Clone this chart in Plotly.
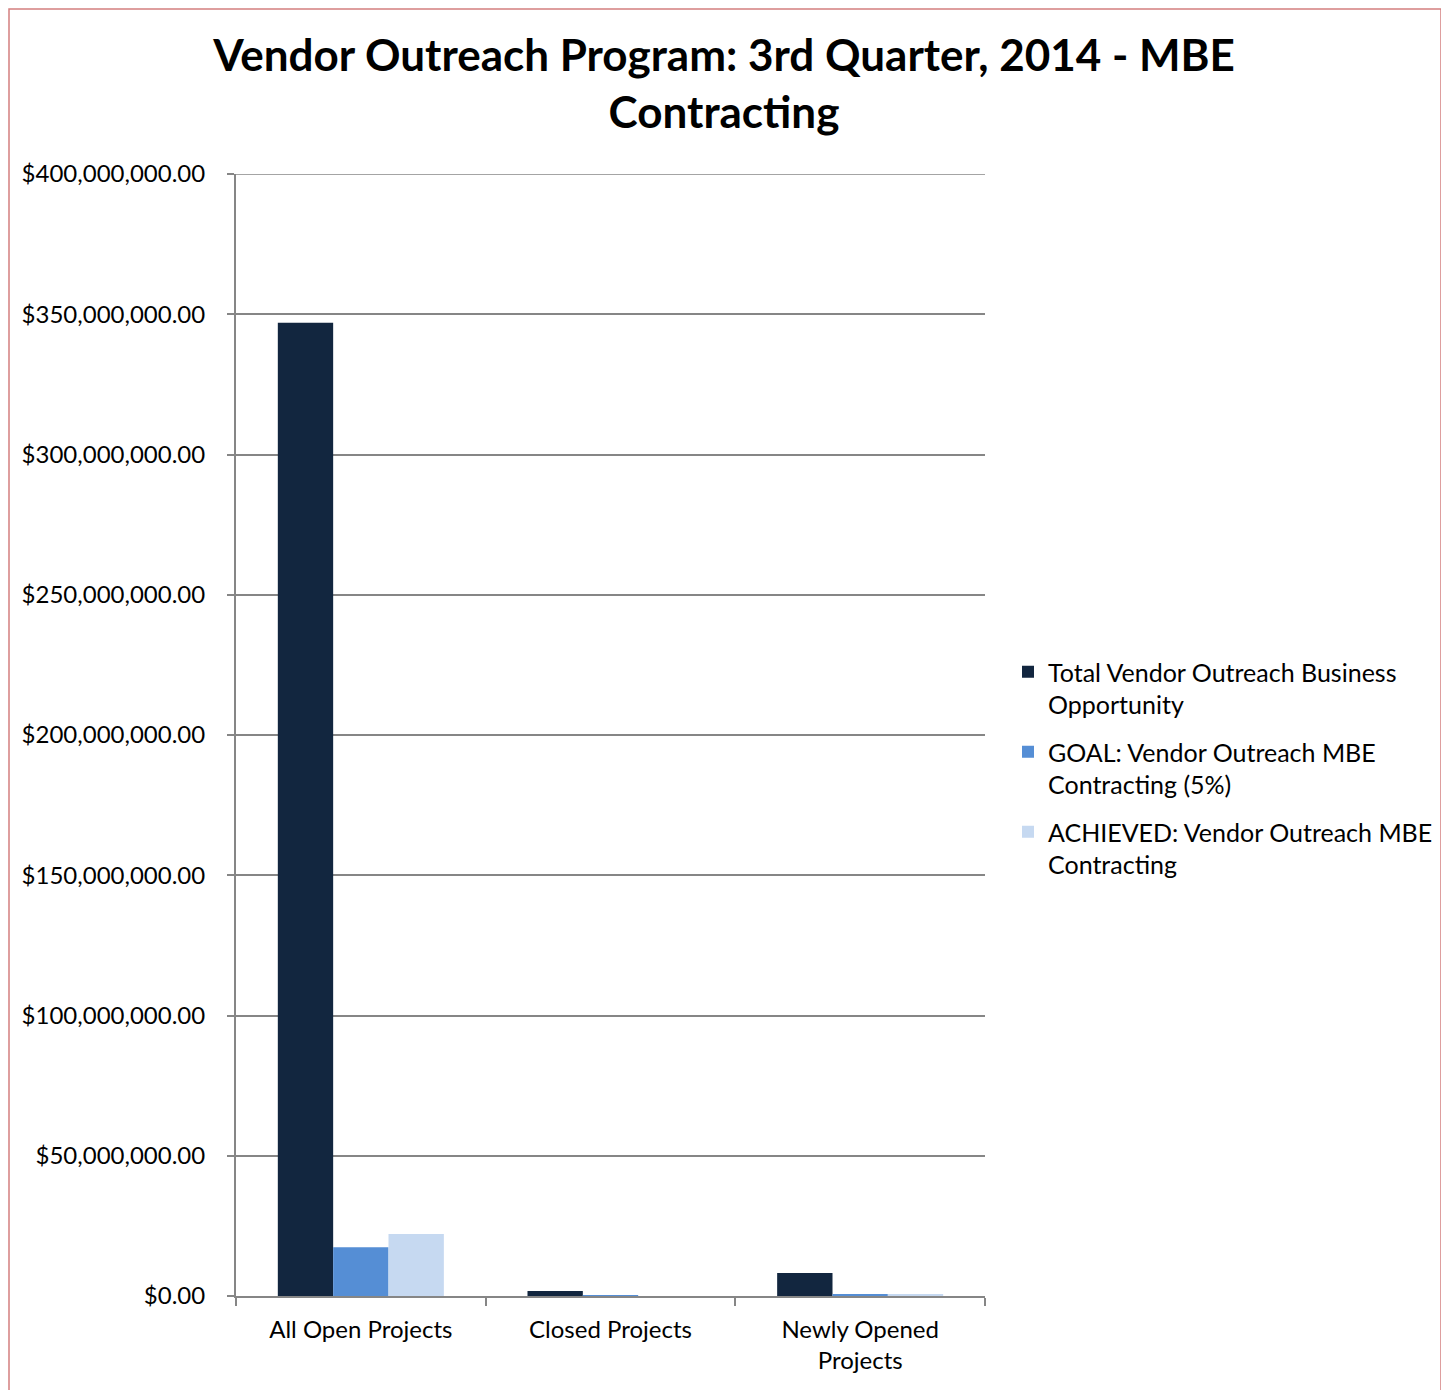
import plotly.graph_objects as go

categories = ["All Open Projects", "Closed Projects", "Newly Opened<br>Projects"]
total = [347_000_000, 1_800_000, 8_200_000]
goal = [17_350_000, 90_000, 410_000]
achieved = [22_100_000, 0, 500_000]
names = ["Total Vendor Outreach Business<br>Opportunity",
         "GOAL: Vendor Outreach MBE<br>Contracting (5%)",
         "ACHIEVED: Vendor Outreach MBE<br>Contracting"]
colors = ["#12263f", "#558ed5", "#c6d9f1"]
tickvals = [0, 50e6, 100e6, 150e6, 200e6, 250e6, 300e6, 350e6, 400e6]
ticktext = ["$%s" % format(v, ",.2f") for v in tickvals]

OFF = 8  # page body offset
W, H = 1449, 1390
L, R, T, B = 236 - OFF, 464 + OFF, 174 - OFF, 94 + OFF
pw, ph = W - L - R, H - T - B

fig = go.Figure()
for i, (n, vals, c) in enumerate(zip(names, [total, goal, achieved], colors)):
    fig.add_trace(go.Bar(x=categories, y=vals, name=n, marker_color=c,
                         marker_line_width=0, legendgroup="g%d" % i))

font = "Lato, Open Sans, sans-serif"
def px_x(p):  # screen px -> paper
    return (p - OFF - L) / pw
def px_y(p):
    return (H - B - (p - OFF)) / ph

fig.update_layout(
    width=W, height=H,
    margin=dict(l=L, r=R, t=T, b=B),
    paper_bgcolor="white", plot_bgcolor="white",
    barmode="group", bargap=0.335, bargroupgap=0,
    font=dict(family=font, size=24, color="black"),
    title=dict(text="<b>Vendor Outreach Program: 3rd Quarter, 2014 - MBE<br>Contracting</b>",
               x=(724 - OFF) / W, xanchor="center", y=1 - 63 / H, yanchor="middle",
               font=dict(size=44, family=font)),
    showlegend=True,
    legend=dict(x=px_x(1008), y=px_y(649), xanchor="left", yanchor="top",
                font=dict(size=25, family=font), tracegroupgap=12,
                valign="top", itemsizing="constant", bgcolor="rgba(0,0,0,0)"),
    xaxis=dict(showline=True, linecolor="#868686", linewidth=2,
               ticks="outside", ticklen=8, tickcolor="#868686", tickwidth=2,
               tickson="boundaries", showgrid=False, ticklabelstandoff=11,
               tickfont=dict(size=24, family=font)),
    yaxis=dict(range=[0, 400e6], tickvals=tickvals, ticktext=ticktext,
               showline=True, linecolor="#868686", linewidth=2,
               ticks="outside", ticklen=7, tickcolor="#868686", tickwidth=2,
               showgrid=True, gridcolor="#868686", gridwidth=1.5,
               ticklabelstandoff=17,
               zeroline=False, tickfont=dict(size=24, family=font)),
    shapes=[dict(type="rect", xref="paper", yref="paper",
                 x0=px_x(9), x1=px_x(1441), y0=px_y(1394), y1=px_y(9),
                 line=dict(color="#d47f7f", width=1.5), layer="below"),
            dict(type="line", xref="paper", yref="y", x0=0, x1=1,
                 y0=tickvals[-1], y1=tickvals[-1],
                 line=dict(color="#868686", width=1.5), layer="below")],
)

fig.write_html("out.html")
